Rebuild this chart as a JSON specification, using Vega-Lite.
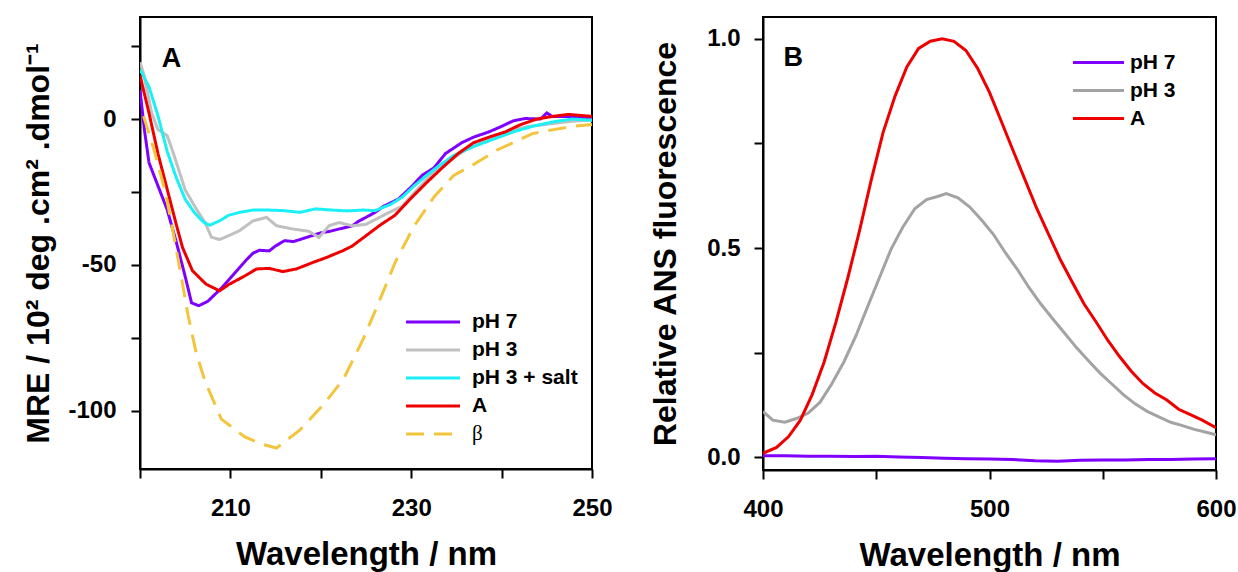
{
  "$schema": "https://vega.github.io/schema/vega-lite/v6.json",
  "background": "white",
  "padding": {"left": 21, "top": 16, "right": 5, "bottom": 0},
  "spacing": 34,
  "datasets": {
    "cd": [
      {"series": "pH 7", "wl": 200, "mre": 10}, {"series": "pH 7", "wl": 200.5, "mre": -4}, {"series": "pH 7", "wl": 201, "mre": -15}, {"series": "pH 7", "wl": 202, "mre": -23}, {"series": "pH 7", "wl": 203, "mre": -31}, {"series": "pH 7", "wl": 204, "mre": -42}, {"series": "pH 7", "wl": 205, "mre": -54}, {"series": "pH 7", "wl": 205.7, "mre": -63}, {"series": "pH 7", "wl": 206.5, "mre": -64}, {"series": "pH 7", "wl": 207.5, "mre": -62.5}, {"series": "pH 7", "wl": 208, "mre": -61}, {"series": "pH 7", "wl": 209, "mre": -58}, {"series": "pH 7", "wl": 210, "mre": -54.5}, {"series": "pH 7", "wl": 211, "mre": -51}, {"series": "pH 7", "wl": 211.7, "mre": -48.5}, {"series": "pH 7", "wl": 212.5, "mre": -46}, {"series": "pH 7", "wl": 213.2, "mre": -45}, {"series": "pH 7", "wl": 214.3, "mre": -45.2}, {"series": "pH 7", "wl": 215, "mre": -43.5}, {"series": "pH 7", "wl": 216, "mre": -41.7}, {"series": "pH 7", "wl": 217, "mre": -42}, {"series": "pH 7", "wl": 218, "mre": -41}, {"series": "pH 7", "wl": 219, "mre": -40}, {"series": "pH 7", "wl": 220, "mre": -39}, {"series": "pH 7", "wl": 221, "mre": -38.5}, {"series": "pH 7", "wl": 222, "mre": -37.7}, {"series": "pH 7", "wl": 223, "mre": -37}, {"series": "pH 7", "wl": 223.5, "mre": -36.6}, {"series": "pH 7", "wl": 224.2, "mre": -35}, {"series": "pH 7", "wl": 225, "mre": -33.7}, {"series": "pH 7", "wl": 226, "mre": -32}, {"series": "pH 7", "wl": 226.9, "mre": -30}, {"series": "pH 7", "wl": 228.6, "mre": -27.4}, {"series": "pH 7", "wl": 230.1, "mre": -23}, {"series": "pH 7", "wl": 231.2, "mre": -19.3}, {"series": "pH 7", "wl": 232.5, "mre": -16.8}, {"series": "pH 7", "wl": 233.8, "mre": -11.8}, {"series": "pH 7", "wl": 235.6, "mre": -8.1}, {"series": "pH 7", "wl": 236.9, "mre": -6.2}, {"series": "pH 7", "wl": 238.6, "mre": -4.4}, {"series": "pH 7", "wl": 240, "mre": -2.5}, {"series": "pH 7", "wl": 241.3, "mre": -0.6}, {"series": "pH 7", "wl": 242.6, "mre": 0.2}, {"series": "pH 7", "wl": 244.3, "mre": 0}, {"series": "pH 7", "wl": 245, "mre": 2.1}, {"series": "pH 7", "wl": 245.6, "mre": 0.9}, {"series": "pH 7", "wl": 247.4, "mre": 0.9}, {"series": "pH 7", "wl": 250, "mre": 0.4},
      {"series": "pH 3", "wl": 200, "mre": 19.5}, {"series": "pH 3", "wl": 200.4, "mre": 15.5}, {"series": "pH 3", "wl": 201.3, "mre": 2}, {"series": "pH 3", "wl": 202, "mre": -3.7}, {"series": "pH 3", "wl": 203, "mre": -5.6}, {"series": "pH 3", "wl": 203.7, "mre": -11.8}, {"series": "pH 3", "wl": 205, "mre": -24.3}, {"series": "pH 3", "wl": 206.3, "mre": -31.2}, {"series": "pH 3", "wl": 207.2, "mre": -35.5}, {"series": "pH 3", "wl": 207.9, "mre": -40.5}, {"series": "pH 3", "wl": 208.8, "mre": -41.3}, {"series": "pH 3", "wl": 209.8, "mre": -40}, {"series": "pH 3", "wl": 211, "mre": -38.3}, {"series": "pH 3", "wl": 212.5, "mre": -34.9}, {"series": "pH 3", "wl": 214, "mre": -33.7}, {"series": "pH 3", "wl": 215.1, "mre": -36.6}, {"series": "pH 3", "wl": 216.9, "mre": -37.7}, {"series": "pH 3", "wl": 218.7, "mre": -38.5}, {"series": "pH 3", "wl": 219.8, "mre": -40.6}, {"series": "pH 3", "wl": 220.9, "mre": -36.6}, {"series": "pH 3", "wl": 222, "mre": -35.5}, {"series": "pH 3", "wl": 223.5, "mre": -36.6}, {"series": "pH 3", "wl": 225, "mre": -36.1}, {"series": "pH 3", "wl": 226.5, "mre": -33.7}, {"series": "pH 3", "wl": 227.3, "mre": -32.4}, {"series": "pH 3", "wl": 229, "mre": -29.9}, {"series": "pH 3", "wl": 230.8, "mre": -23.7}, {"series": "pH 3", "wl": 232.5, "mre": -18.1}, {"series": "pH 3", "wl": 234.3, "mre": -14.3}, {"series": "pH 3", "wl": 236, "mre": -10.6}, {"series": "pH 3", "wl": 237.8, "mre": -8.1}, {"series": "pH 3", "wl": 239.5, "mre": -6.2}, {"series": "pH 3", "wl": 241.3, "mre": -3.7}, {"series": "pH 3", "wl": 243, "mre": -2.5}, {"series": "pH 3", "wl": 244.8, "mre": -1.9}, {"series": "pH 3", "wl": 246.5, "mre": -1.2}, {"series": "pH 3", "wl": 248.3, "mre": -0.6}, {"series": "pH 3", "wl": 250, "mre": -0.4},
      {"series": "pH 3 + salt", "wl": 200, "mre": 17}, {"series": "pH 3 + salt", "wl": 201, "mre": 11}, {"series": "pH 3 + salt", "wl": 202, "mre": 1}, {"series": "pH 3 + salt", "wl": 203, "mre": -11}, {"series": "pH 3 + salt", "wl": 204, "mre": -20}, {"series": "pH 3 + salt", "wl": 205, "mre": -27.5}, {"series": "pH 3 + salt", "wl": 206, "mre": -32}, {"series": "pH 3 + salt", "wl": 207, "mre": -35.3}, {"series": "pH 3 + salt", "wl": 207.7, "mre": -36.4}, {"series": "pH 3 + salt", "wl": 208.8, "mre": -34.9}, {"series": "pH 3 + salt", "wl": 209.8, "mre": -33}, {"series": "pH 3 + salt", "wl": 211, "mre": -32}, {"series": "pH 3 + salt", "wl": 212.5, "mre": -31.2}, {"series": "pH 3 + salt", "wl": 214.2, "mre": -31.2}, {"series": "pH 3 + salt", "wl": 215.9, "mre": -31.4}, {"series": "pH 3 + salt", "wl": 217.7, "mre": -32}, {"series": "pH 3 + salt", "wl": 219.4, "mre": -30.8}, {"series": "pH 3 + salt", "wl": 221.2, "mre": -31.2}, {"series": "pH 3 + salt", "wl": 222.9, "mre": -31.5}, {"series": "pH 3 + salt", "wl": 224.7, "mre": -31.2}, {"series": "pH 3 + salt", "wl": 226, "mre": -31.4}, {"series": "pH 3 + salt", "wl": 227.7, "mre": -29.3}, {"series": "pH 3 + salt", "wl": 229, "mre": -26.8}, {"series": "pH 3 + salt", "wl": 230.3, "mre": -23}, {"series": "pH 3 + salt", "wl": 231.7, "mre": -19.3}, {"series": "pH 3 + salt", "wl": 233, "mre": -16.2}, {"series": "pH 3 + salt", "wl": 234.7, "mre": -12.5}, {"series": "pH 3 + salt", "wl": 236.9, "mre": -9.4}, {"series": "pH 3 + salt", "wl": 239.1, "mre": -6.9}, {"series": "pH 3 + salt", "wl": 241.3, "mre": -4.4}, {"series": "pH 3 + salt", "wl": 243.4, "mre": -2.5}, {"series": "pH 3 + salt", "wl": 245.6, "mre": -1}, {"series": "pH 3 + salt", "wl": 247.8, "mre": 0}, {"series": "pH 3 + salt", "wl": 250, "mre": -0.4},
      {"series": "A", "wl": 200, "mre": 15}, {"series": "A", "wl": 201, "mre": 2}, {"series": "A", "wl": 202, "mre": -12}, {"series": "A", "wl": 203, "mre": -24}, {"series": "A", "wl": 204, "mre": -36}, {"series": "A", "wl": 204.7, "mre": -44}, {"series": "A", "wl": 205.8, "mre": -52}, {"series": "A", "wl": 207.3, "mre": -56.6}, {"series": "A", "wl": 208.8, "mre": -58.9}, {"series": "A", "wl": 209.9, "mre": -56.6}, {"series": "A", "wl": 211.3, "mre": -54.3}, {"series": "A", "wl": 212.9, "mre": -51.4}, {"series": "A", "wl": 214.3, "mre": -51.2}, {"series": "A", "wl": 215.8, "mre": -52.3}, {"series": "A", "wl": 217.3, "mre": -51.4}, {"series": "A", "wl": 219.1, "mre": -49.2}, {"series": "A", "wl": 220.6, "mre": -47.5}, {"series": "A", "wl": 222.4, "mre": -45.2}, {"series": "A", "wl": 223.5, "mre": -43.5}, {"series": "A", "wl": 225, "mre": -40}, {"series": "A", "wl": 226.5, "mre": -36.5}, {"series": "A", "wl": 228.2, "mre": -33}, {"series": "A", "wl": 229.9, "mre": -27.4}, {"series": "A", "wl": 231.7, "mre": -21.8}, {"series": "A", "wl": 233.4, "mre": -16.8}, {"series": "A", "wl": 235.2, "mre": -11.8}, {"series": "A", "wl": 236.9, "mre": -8.1}, {"series": "A", "wl": 238.6, "mre": -6.2}, {"series": "A", "wl": 240.4, "mre": -4.4}, {"series": "A", "wl": 242.1, "mre": -1.9}, {"series": "A", "wl": 243.9, "mre": 0}, {"series": "A", "wl": 245.6, "mre": 0.9}, {"series": "A", "wl": 247.4, "mre": 1.6}, {"series": "A", "wl": 250, "mre": 0.9},
      {"series": "β", "wl": 200.4, "mre": 1}, {"series": "β", "wl": 201.5, "mre": -10}, {"series": "β", "wl": 202.8, "mre": -25}, {"series": "β", "wl": 203.5, "mre": -36}, {"series": "β", "wl": 204.5, "mre": -53}, {"series": "β", "wl": 205.3, "mre": -67}, {"series": "β", "wl": 206.2, "mre": -80}, {"series": "β", "wl": 207.2, "mre": -90}, {"series": "β", "wl": 209, "mre": -102.9}, {"series": "β", "wl": 211.6, "mre": -109}, {"series": "β", "wl": 213.5, "mre": -111.5}, {"series": "β", "wl": 215.1, "mre": -112.8}, {"series": "β", "wl": 217.7, "mre": -106.6}, {"series": "β", "wl": 220.3, "mre": -97.9}, {"series": "β", "wl": 222.5, "mre": -89.2}, {"series": "β", "wl": 224.7, "mre": -75.4}, {"series": "β", "wl": 226.4, "mre": -63}, {"series": "β", "wl": 228.2, "mre": -49.3}, {"series": "β", "wl": 230.3, "mre": -36.8}, {"series": "β", "wl": 232.5, "mre": -26.8}, {"series": "β", "wl": 234.7, "mre": -19.3}, {"series": "β", "wl": 236.9, "mre": -15.6}, {"series": "β", "wl": 239.5, "mre": -10.6}, {"series": "β", "wl": 241.3, "mre": -8.1}, {"series": "β", "wl": 243.4, "mre": -5}, {"series": "β", "wl": 245.6, "mre": -3.7}, {"series": "β", "wl": 247.8, "mre": -2.5}, {"series": "β", "wl": 250, "mre": -1.9}
    ],
    "ans": [
      {"series": "pH 7", "wl": 400, "f": 0.004}, {"series": "pH 7", "wl": 410, "f": 0.004}, {"series": "pH 7", "wl": 420, "f": 0.003}, {"series": "pH 7", "wl": 430, "f": 0.003}, {"series": "pH 7", "wl": 440, "f": 0.002}, {"series": "pH 7", "wl": 450, "f": 0.003}, {"series": "pH 7", "wl": 460, "f": 0.001}, {"series": "pH 7", "wl": 470, "f": 0.0}, {"series": "pH 7", "wl": 480, "f": -0.002}, {"series": "pH 7", "wl": 490, "f": -0.003}, {"series": "pH 7", "wl": 500, "f": -0.004}, {"series": "pH 7", "wl": 510, "f": -0.005}, {"series": "pH 7", "wl": 520, "f": -0.008}, {"series": "pH 7", "wl": 530, "f": -0.009}, {"series": "pH 7", "wl": 540, "f": -0.007}, {"series": "pH 7", "wl": 550, "f": -0.006}, {"series": "pH 7", "wl": 560, "f": -0.006}, {"series": "pH 7", "wl": 570, "f": -0.005}, {"series": "pH 7", "wl": 580, "f": -0.005}, {"series": "pH 7", "wl": 590, "f": -0.004}, {"series": "pH 7", "wl": 600, "f": -0.003},
      {"series": "pH 3", "wl": 400, "f": 0.11}, {"series": "pH 3", "wl": 404.3, "f": 0.089}, {"series": "pH 3", "wl": 409.6, "f": 0.084}, {"series": "pH 3", "wl": 414.8, "f": 0.093}, {"series": "pH 3", "wl": 420, "f": 0.106}, {"series": "pH 3", "wl": 425.2, "f": 0.132}, {"series": "pH 3", "wl": 430.4, "f": 0.176}, {"series": "pH 3", "wl": 435.7, "f": 0.228}, {"series": "pH 3", "wl": 440.9, "f": 0.289}, {"series": "pH 3", "wl": 446.1, "f": 0.359}, {"series": "pH 3", "wl": 451.3, "f": 0.428}, {"series": "pH 3", "wl": 456.5, "f": 0.497}, {"series": "pH 3", "wl": 461.7, "f": 0.55}, {"series": "pH 3", "wl": 467, "f": 0.594}, {"series": "pH 3", "wl": 472.2, "f": 0.616}, {"series": "pH 3", "wl": 477.4, "f": 0.624}, {"series": "pH 3", "wl": 480.9, "f": 0.63}, {"series": "pH 3", "wl": 486.1, "f": 0.62}, {"series": "pH 3", "wl": 491.3, "f": 0.598}, {"series": "pH 3", "wl": 496.5, "f": 0.567}, {"series": "pH 3", "wl": 501.7, "f": 0.533}, {"series": "pH 3", "wl": 507, "f": 0.489}, {"series": "pH 3", "wl": 512.2, "f": 0.45}, {"series": "pH 3", "wl": 517.4, "f": 0.406}, {"series": "pH 3", "wl": 522.6, "f": 0.367}, {"series": "pH 3", "wl": 527.8, "f": 0.332}, {"series": "pH 3", "wl": 533, "f": 0.298}, {"series": "pH 3", "wl": 538.3, "f": 0.263}, {"series": "pH 3", "wl": 543.5, "f": 0.232}, {"series": "pH 3", "wl": 548.7, "f": 0.202}, {"series": "pH 3", "wl": 553.9, "f": 0.176}, {"series": "pH 3", "wl": 559.1, "f": 0.15}, {"series": "pH 3", "wl": 564.3, "f": 0.128}, {"series": "pH 3", "wl": 569.6, "f": 0.11}, {"series": "pH 3", "wl": 574.8, "f": 0.097}, {"series": "pH 3", "wl": 580, "f": 0.084}, {"series": "pH 3", "wl": 585.2, "f": 0.076}, {"series": "pH 3", "wl": 590.4, "f": 0.067}, {"series": "pH 3", "wl": 595.7, "f": 0.06}, {"series": "pH 3", "wl": 600, "f": 0.054},
      {"series": "A", "wl": 400, "f": 0.01}, {"series": "A", "wl": 406, "f": 0.024}, {"series": "A", "wl": 411.3, "f": 0.05}, {"series": "A", "wl": 416.5, "f": 0.089}, {"series": "A", "wl": 421.7, "f": 0.15}, {"series": "A", "wl": 427, "f": 0.228}, {"series": "A", "wl": 432.2, "f": 0.323}, {"series": "A", "wl": 437.4, "f": 0.428}, {"series": "A", "wl": 442.6, "f": 0.541}, {"series": "A", "wl": 447.8, "f": 0.663}, {"series": "A", "wl": 453, "f": 0.776}, {"series": "A", "wl": 458.3, "f": 0.863}, {"series": "A", "wl": 463.5, "f": 0.933}, {"series": "A", "wl": 468.7, "f": 0.977}, {"series": "A", "wl": 473.9, "f": 0.994}, {"series": "A", "wl": 479.1, "f": 1.0}, {"series": "A", "wl": 484.3, "f": 0.994}, {"series": "A", "wl": 489.6, "f": 0.972}, {"series": "A", "wl": 494.8, "f": 0.929}, {"series": "A", "wl": 500, "f": 0.872}, {"series": "A", "wl": 505.2, "f": 0.803}, {"series": "A", "wl": 510.4, "f": 0.733}, {"series": "A", "wl": 515.7, "f": 0.663}, {"series": "A", "wl": 520.9, "f": 0.594}, {"series": "A", "wl": 526.1, "f": 0.533}, {"series": "A", "wl": 531.3, "f": 0.472}, {"series": "A", "wl": 536.5, "f": 0.419}, {"series": "A", "wl": 541.7, "f": 0.367}, {"series": "A", "wl": 547, "f": 0.324}, {"series": "A", "wl": 552.2, "f": 0.28}, {"series": "A", "wl": 557.4, "f": 0.241}, {"series": "A", "wl": 562.6, "f": 0.206}, {"series": "A", "wl": 567.8, "f": 0.176}, {"series": "A", "wl": 573, "f": 0.154}, {"series": "A", "wl": 578.3, "f": 0.137}, {"series": "A", "wl": 583.5, "f": 0.115}, {"series": "A", "wl": 588.7, "f": 0.102}, {"series": "A", "wl": 593.9, "f": 0.089}, {"series": "A", "wl": 600, "f": 0.071}
    ]
  },
  "hconcat": [
    {
      "width": 452,
      "height": 452,
      "layer": [
        {
          "data": {"name": "cd"},
          "mark": {"type": "line", "strokeWidth": 3, "clip": true},
          "encoding": {
            "x": {"field": "wl", "type": "quantitative",
              "scale": {"domain": [200, 250], "nice": false, "zero": false},
              "axis": {"title": "Wavelength / nm", "values": [200, 210, 220, 230, 240, 250],
                "labelExpr": "datum.value % 20 == 10 ? datum.label : ''", "titleFontSize": 33, "titlePadding": 18, "labelPadding": 18}},
            "y": {"field": "mre", "type": "quantitative",
              "scale": {"domain": [-120, 35], "nice": false, "zero": false},
              "axis": {"title": "MRE / 10²  deg .cm²  .dmol⁻¹", "values": [-100, -75, -50, -25, 0, 25],
                "labelExpr": "datum.value % 50 == 0 ? toString(datum.value) : ''", "titleFontSize": 32, "titlePadding": 12, "labelPadding": 15}},
            "color": {"field": "series", "type": "nominal",
              "scale": {"domain": ["pH 7", "pH 3", "pH 3 + salt", "A", "β"], "range": ["#7F00FF", "#C0C0C0", "#1AF0F5", "#EE0000", "#F2C53D"]},
              "legend": {"title": null, "orient": "none", "legendX": 278, "legendY": 290, "symbolSize": 729, "labelOffset": 24,
                "encode": {"labels": {"update": {"font": {"signal": "datum.value === 'β' ? 'Liberation Serif' : 'Liberation Sans'"}, "fontWeight": {"signal": "datum.value === 'β' ? 'normal' : 'bold'"}}}}}},
            "strokeDash": {"field": "series", "type": "nominal",
              "scale": {"domain": ["pH 7", "pH 3", "pH 3 + salt", "A", "β"], "range": [[1, 0], [1, 0], [1, 0], [1, 0], [18, 10]]},
              "legend": {"title": null, "orient": "none", "legendX": 278, "legendY": 290, "symbolSize": 729, "labelOffset": 24,
                "encode": {"labels": {"update": {"font": {"signal": "datum.value === 'β' ? 'Liberation Serif' : 'Liberation Sans'"}, "fontWeight": {"signal": "datum.value === 'β' ? 'normal' : 'bold'"}}}}}}
          }
        },
        {
          "data": {"values": [{"panel": "A"}]},
          "mark": {"type": "text", "align": "left", "baseline": "alphabetic", "fontSize": 27, "fontWeight": "bold", "font": "Liberation Sans", "color": "black"},
          "encoding": {"x": {"datum": 202.4}, "y": {"datum": 18}, "text": {"field": "panel"}}
        }
      ]
    },
    {
      "width": 453,
      "height": 453,
      "layer": [
        {
          "data": {"name": "ans"},
          "mark": {"type": "line", "strokeWidth": 3, "clip": true},
          "encoding": {
            "x": {"field": "wl", "type": "quantitative",
              "scale": {"domain": [400, 600], "nice": false, "zero": false},
              "axis": {"title": "Wavelength / nm", "values": [400, 450, 500, 550, 600],
                "labelExpr": "datum.value % 100 == 0 ? datum.label : ''", "titleFontSize": 33, "titlePadding": 18, "labelPadding": 18}},
            "y": {"field": "f", "type": "quantitative",
              "scale": {"domain": [-0.03, 1.052], "nice": false, "zero": false},
              "axis": {"title": "Relative ANS fluorescence", "values": [0, 0.25, 0.5, 0.75, 1.0],
                "labelExpr": "datum.value % 0.5 == 0 ? format(datum.value, '.1f') : ''", "titleFontSize": 32, "titlePadding": 24, "labelPadding": 14}},
            "color": {"field": "series", "type": "nominal",
              "scale": {"domain": ["pH 7", "pH 3", "A"], "range": ["#7F00FF", "#A3A3A3", "#EE0000"]},
              "legend": {"title": null, "orient": "none", "legendX": 321, "legendY": 31, "symbolSize": 650, "labelOffset": 17}}
          }
        },
        {
          "data": {"values": [{"panel": "B"}]},
          "mark": {"type": "text", "align": "left", "baseline": "alphabetic", "fontSize": 27, "fontWeight": "bold", "font": "Liberation Sans", "color": "black"},
          "encoding": {"x": {"datum": 409.1}, "y": {"datum": 0.935}, "text": {"field": "panel"}}
        }
      ]
    }
  ],
  "resolve": {"scale": {"color": "independent", "strokeDash": "independent", "x": "independent", "y": "independent"}},
  "config": {
    "view": {"stroke": "black", "strokeWidth": 2},
    "font": "Liberation Sans",
    "axis": {
      "grid": false,
      "domainColor": "black", "domainWidth": 2,
      "tickColor": "black", "tickWidth": 2, "tickSize": 9,
      "labelFont": "Liberation Sans", "labelFontWeight": "bold", "labelFontSize": 24, "labelColor": "black",
      "labelFlush": false, "labelOverlap": false,
      "titleFont": "Liberation Sans", "titleFontWeight": "bold", "titleColor": "black"
    },
    "legend": {
      "padding": 0,
      "symbolType": "M-2,0H2", "symbolStrokeWidth": 3,
      "labelFont": "Liberation Sans", "labelFontWeight": "bold", "labelFontSize": 21, "labelColor": "black",
      "rowPadding": 3
    }
  }
}
